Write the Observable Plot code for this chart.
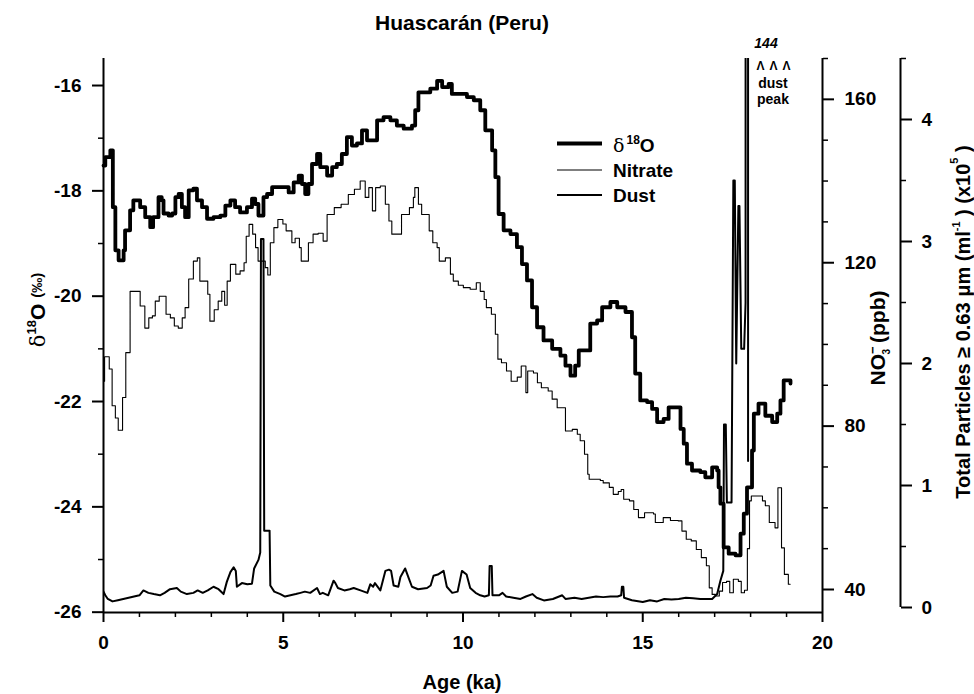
<!DOCTYPE html>
<html><head><meta charset="utf-8">
<script src="https://cdn.jsdelivr.net/npm/d3@7"></script>
<script src="https://cdn.jsdelivr.net/npm/@observablehq/plot@0.6"></script>
<style>
body{margin:0;background:#fff;}
#chart{position:relative;width:974px;height:694px;}
#chart svg{position:absolute;left:0;top:0;overflow:visible;}
</style></head><body><div id="chart"></div>
<script>
// ---------- data (age in ka) ----------
const d18oSeries = [
[0.00,-17.52],[0.05,-17.36],[0.19,-17.23],[0.26,-18.31],[0.33,-19.13],[0.42,-19.32],[0.56,-19.13],[0.60,-18.75],
[0.74,-18.37],[0.83,-18.18],[1.02,-18.31],[1.16,-18.50],[1.30,-18.69],[1.38,-18.50],[1.53,-18.12],[1.62,-18.18],
[1.67,-18.43],[1.81,-18.47],[1.91,-18.43],[2.00,-18.12],[2.09,-18.06],[2.18,-18.31],[2.27,-18.50],[2.37,-17.99],
[2.50,-17.96],[2.60,-18.18],[2.74,-18.31],[2.88,-18.53],[3.06,-18.50],[3.25,-18.47],[3.39,-18.28],[3.53,-18.18],
[3.66,-18.31],[3.80,-18.41],[3.99,-18.31],[4.13,-18.15],[4.22,-18.25],[4.31,-18.47],[4.45,-18.12],[4.55,-18.06],
[4.69,-17.93],[4.96,-17.93],[5.15,-18.03],[5.29,-17.84],[5.43,-17.71],[5.52,-17.87],[5.61,-18.06],[5.70,-17.87],
[5.80,-17.49],[5.94,-17.30],[6.03,-17.55],[6.22,-17.71],[6.36,-17.55],[6.49,-17.49],[6.63,-17.30],[6.77,-16.98],
[6.91,-17.14],[7.05,-17.10],[7.19,-16.85],[7.33,-17.04],[7.47,-17.04],[7.61,-16.66],[7.79,-16.60],[7.98,-16.66],
[8.16,-16.76],[8.35,-16.82],[8.58,-16.76],[8.67,-16.47],[8.76,-16.13],[9.09,-16.06],[9.28,-15.91],[9.42,-16.03],
[9.60,-15.97],[9.69,-16.16],[10.11,-16.22],[10.30,-16.28],[10.48,-16.47],[10.62,-16.85],[10.81,-17.23],[10.90,-17.74],
[10.99,-18.44],[11.13,-18.75],[11.32,-18.82],[11.50,-19.07],[11.64,-19.39],[11.78,-19.70],[11.92,-20.21],[12.06,-20.59],
[12.24,-20.84],[12.48,-21.00],[12.71,-21.13],[12.85,-21.32],[12.99,-21.51],[13.12,-21.32],[13.22,-21.03],[13.54,-20.52],
[13.73,-20.46],[13.87,-20.21],[14.10,-20.11],[14.29,-20.21],[14.52,-20.30],[14.70,-20.78],[14.79,-21.47],[14.93,-21.98],
[15.12,-22.01],[15.26,-22.14],[15.40,-22.39],[15.58,-22.33],[15.72,-22.11],[15.91,-22.11],[16.05,-22.52],[16.14,-22.80],
[16.23,-23.18],[16.37,-23.31],[16.60,-23.34],[16.74,-23.44],[16.93,-23.25],[17.07,-23.31],[17.11,-23.63],[17.16,-23.94],
[17.25,-24.77],[17.39,-24.89],[17.58,-24.92],[17.72,-24.51],[17.81,-24.13],[17.90,-23.63],[18.04,-22.93],[18.09,-22.23],
[18.22,-22.04],[18.41,-22.27],[18.60,-22.39],[18.74,-22.23],[18.83,-21.98],[18.92,-21.60],[19.11,-21.66]
];
const nitrateSeries = [
[0.00,91],[0.03,97],[0.16,94],[0.24,85],[0.33,82],[0.41,79],[0.53,87],[0.62,98],[0.74,113],[1.02,109.4],
[1.15,104],[1.26,106.5],[1.36,107],[1.44,110.6],[1.55,111.8],[1.74,107.4],[1.86,106.5],[1.97,104.5],[2.08,104],
[2.19,106.5],[2.27,109],[2.37,116],[2.50,120.4],[2.61,121.2],[2.68,115.5],[2.90,112.3],[2.96,105.7],[3.08,108.5],
[3.19,110.6],[3.29,113],[3.37,109.6],[3.44,115.5],[3.53,119.6],[3.68,117.2],[3.80,118],[3.91,120],[3.97,126.5],
[4.05,129.4],[4.15,127],[4.23,123.7],[4.30,120.4],[4.50,118.8],[4.57,117],[4.64,124.9],[4.74,128.6],[4.85,130.6],
[4.99,129.5],[5.08,127.8],[5.24,124.9],[5.33,126],[5.45,123.7],[5.50,120.4],[5.70,124.9],[5.83,127],[5.97,127.2],
[6.11,125.3],[6.22,131.8],[6.42,133.5],[6.61,134.3],[6.81,136.7],[6.98,138],[7.14,140],[7.28,136],[7.38,138.4],
[7.48,132.7],[7.57,138.4],[7.70,138.8],[7.84,134.3],[7.94,130.2],[8.02,127],[8.29,131.8],[8.51,133.5],[8.62,136],
[8.66,138.4],[8.76,134.3],[8.85,131.8],[9.06,127.8],[9.16,124.9],[9.28,123.7],[9.34,120.4],[9.51,121.2],[9.65,117.2],
[9.73,115.5],[9.87,114.5],[10.01,113.9],[10.20,113.5],[10.37,115.1],[10.48,113],[10.59,111],[10.65,109],[10.79,107.4],
[10.90,102.5],[10.97,96.4],[11.07,95.5],[11.21,93.5],[11.34,91],[11.51,92],[11.62,94.7],[11.75,88.2],[11.80,93.5],
[11.96,93],[12.07,90.6],[12.18,89.4],[12.37,88.6],[12.48,86.6],[12.62,84.5],[12.85,78.8],[13.04,79.2],[13.18,78],
[13.26,76.4],[13.38,73.1],[13.47,68.2],[13.51,67],[13.82,66.7],[13.90,66.1],[14.07,65],[14.18,63.3],[14.32,64],
[14.40,64.5],[14.47,62.1],[14.63,61.7],[14.75,59.6],[14.88,57.6],[15.05,58.8],[15.30,58.5],[15.35,56.4],[15.57,57.6],
[15.77,56.9],[15.99,56.8],[16.09,54.3],[16.21,52.3],[16.35,51.9],[16.49,49.8],[16.63,47.8],[16.77,45.8],[16.85,40.4],
[16.93,38.8],[17.02,38.4],[17.13,39.6],[17.22,41.7],[17.33,42],[17.42,39.2],[17.52,42.5],[17.66,42],[17.74,39.2],
[17.83,39.8],[17.91,50],[17.97,61.7],[18.02,62.9],[18.33,61.7],[18.41,60.5],[18.52,56.4],[18.68,55.1],[18.76,64.9],
[18.86,50.2],[18.94,43.7],[19.05,41.3],[19.10,41.3]
];
const dustSeries = [
[0.00,0.13],[0.05,0.10],[0.12,0.07],[0.25,0.05],[0.40,0.06],[0.55,0.07],[0.70,0.08],[0.85,0.09],[1.00,0.10],
[1.11,0.14],[1.25,0.12],[1.40,0.11],[1.57,0.10],[1.70,0.12],[1.85,0.15],[2.04,0.16],[2.15,0.13],[2.32,0.11],
[2.50,0.12],[2.62,0.14],[2.76,0.12],[2.90,0.14],[3.06,0.17],[3.20,0.15],[3.34,0.11],[3.43,0.21],[3.53,0.29],
[3.62,0.33],[3.68,0.30],[3.71,0.17],[3.85,0.20],[4.00,0.19],[4.13,0.195],[4.19,0.32],[4.31,0.39],[4.36,0.45],
[4.38,3.02],[4.45,3.02],[4.47,0.63],[4.62,0.63],[4.64,0.18],[4.75,0.13],[4.92,0.11],[5.05,0.09],[5.20,0.10],
[5.35,0.11],[5.48,0.12],[5.60,0.13],[5.75,0.12],[5.94,0.16],[6.02,0.11],[6.10,0.12],[6.25,0.10],[6.40,0.22],
[6.45,0.20],[6.52,0.16],[6.70,0.14],[6.85,0.15],[6.96,0.16],[7.15,0.14],[7.34,0.12],[7.42,0.19],[7.50,0.17],
[7.55,0.20],[7.70,0.14],[7.84,0.30],[7.94,0.31],[8.00,0.30],[8.07,0.18],[8.20,0.17],[8.26,0.25],[8.39,0.32],
[8.49,0.24],[8.58,0.17],[8.75,0.15],[9.00,0.16],[9.10,0.18],[9.18,0.26],[9.30,0.27],[9.46,0.30],[9.55,0.17],
[9.70,0.12],[9.85,0.13],[9.97,0.30],[10.10,0.27],[10.20,0.16],[10.35,0.12],[10.48,0.10],[10.60,0.09],[10.72,0.10],
[10.74,0.34],[10.80,0.34],[10.82,0.10],[11.00,0.10],[11.10,0.12],[11.20,0.09],[11.40,0.08],[11.60,0.07],[11.75,0.09],
[11.93,0.11],[12.05,0.08],[12.25,0.058],[12.50,0.07],[12.76,0.10],[12.85,0.07],[13.10,0.08],[13.30,0.07],[13.50,0.08],
[13.70,0.09],[13.90,0.085],[14.10,0.09],[14.30,0.09],[14.40,0.10],[14.42,0.17],[14.46,0.17],[14.48,0.08],[14.70,0.06],
[15.00,0.045],[15.20,0.06],[15.40,0.05],[15.60,0.07],[15.80,0.065],[16.00,0.07],[16.20,0.08],[16.40,0.075],[16.60,0.07],
[16.93,0.07],[17.07,0.11],[17.16,0.22],[17.24,0.30],[17.26,1.50],[17.31,1.50],[17.34,0.86],[17.47,0.86],[17.52,3.50],
[17.56,3.50],[17.60,2.00],[17.66,3.29],[17.69,3.29],[17.74,2.12],[17.82,2.12],[17.86,2.50],[17.90,144],[17.91,144],
[17.93,1.20]
];
const xTicks = [0,5,10,15,20];
const xMinor = [1,2,3,4,6,7,8,9,11,12,13,14,16,17,18,19];
const d18oTicks = [-16,-18,-20,-22,-24,-26];
const d18oMinor = [-17,-19,-21,-23,-25];
const nitrateTicks = [40,80,120,160];
const nitrateMinor = [50,60,70,90,100,110,130,140,150,170];
const dustTicks = [0,1,2,3,4];
const dustMinor = [0.5,1.5,2.5,3.5,4.5];
const legendLabels = ["Nitrate","Dust"];

// ---------- layout ----------
const FONT = '"Liberation Sans", Arial, Helvetica, sans-serif';
const W = 974, H = 694;
const mL = 103, mR = 152, mT = 58, mB = 82;
const d18oDomain = [-26.006, -15.487];
const nitrateDomain = [34.37, 170];
const dustDomain = [-0.041, 4.5];
const style = {background:"transparent", fontFamily:FONT, fontSize:"19px", fontWeight:"bold", color:"#000", overflow:"visible"};
const toObj = s => s.map(([age,value]) => ({age, value}));

const plotA = Plot.plot({
  width:W, height:H, marginLeft:mL, marginRight:mR, marginTop:mT, marginBottom:mB, style,
  x:{domain:[0,20], axis:null},
  y:{domain:d18oDomain, axis:null},
  marks:[
    Plot.ruleY([d18oDomain[0]], {x1:0, x2:20, strokeWidth:2}),
    Plot.ruleX([0], {y1:d18oDomain[0], y2:d18oDomain[1], strokeWidth:2}),
    Plot.axisX({ticks:xTicks, tickSize:10, tickPadding:13, tickFormat:d=>String(d), strokeWidth:2, label:null}),
    Plot.axisX({ticks:xMinor, tickSize:5, tickFormat:()=>"", strokeWidth:1.5, label:null}),
    Plot.axisY({ticks:d18oTicks, tickSize:11, tickPadding:11, tickFormat:d=>String(d), strokeWidth:2, label:null}),
    Plot.axisY({ticks:d18oMinor, tickSize:5, tickFormat:()=>"", strokeWidth:1.5, label:null}),
    Plot.line(toObj(d18oSeries), {x:"age", y:"value", curve:"step-after", stroke:"#000", strokeWidth:3.8, strokeLinejoin:"round", strokeLinecap:"round"})
  ]
});

const plotB = Plot.plot({
  width:W, height:H, marginLeft:mL, marginRight:mR, marginTop:mT, marginBottom:mB, style,
  x:{domain:[0,20], axis:null},
  y:{domain:nitrateDomain, axis:null},
  marks:[
    Plot.ruleX([20], {y1:nitrateDomain[0], y2:nitrateDomain[1], strokeWidth:2}),
    Plot.axisY({anchor:"right", ticks:nitrateTicks, tickSize:11, tickPadding:11, tickFormat:d=>String(d), strokeWidth:2, label:null}),
    Plot.axisY({anchor:"right", ticks:nitrateMinor, tickSize:5, tickFormat:()=>"", strokeWidth:1.5, label:null}),
    Plot.line(toObj(nitrateSeries), {x:"age", y:"value", curve:"step-after", stroke:"#000", strokeWidth:1.1})
  ]
});

// dust plot: wider x range so its right axis sits further right, same data positions
const dustRight = 900;
const dustXMax = 20 * (dustRight - mL) / (W - mR - mL);
const plotC = Plot.plot({
  width:W, height:H, marginLeft:mL, marginRight:W - dustRight, marginTop:mT, marginBottom:mB, style,
  x:{domain:[0,dustXMax], axis:null},
  y:{domain:dustDomain, axis:null},
  marks:[
    Plot.ruleX([dustXMax], {y1:0, y2:4.5, strokeWidth:2}),
    Plot.axisY({anchor:"right", ticks:dustTicks, tickSize:11, tickPadding:10, tickFormat:d=>String(d), strokeWidth:2, label:null}),
    Plot.axisY({anchor:"right", ticks:dustMinor, tickSize:5, tickFormat:()=>"", strokeWidth:1.5, label:null}),
    Plot.line(toObj(dustSeries), {x:"age", y:"value", stroke:"#000", strokeWidth:2, strokeLinejoin:"round", clip:true})
  ]
});

const chart = document.getElementById("chart");
chart.append(plotC, plotB, plotA);

// ---------- text overlay ----------
const svg = d3.select(chart).append("svg").attr("width",W).attr("height",H)
  .style("font-family",FONT).style("font-weight","bold").attr("fill","#000");

svg.append("text").attr("x",462).attr("y",30).attr("text-anchor","middle").attr("font-size",21).text("Huascarán (Peru)");
svg.append("text").attr("x",462).attr("y",689).attr("text-anchor","middle").attr("font-size",20).text("Age (ka)");

// left axis title
const t1 = svg.append("text").attr("transform","translate(45,310) rotate(-90)").attr("text-anchor","middle").attr("font-size",21);
t1.append("tspan").attr("font-weight","normal").attr("font-family","DejaVu Serif, serif").text("δ");
t1.append("tspan").attr("font-size",13).attr("dy",-9).text("18");
t1.append("tspan").attr("dy",9).text("O ");
t1.append("tspan").attr("font-size",15).attr("dy",-3).text("(‰)");

// nitrate axis title
const t2 = svg.append("text").attr("transform","translate(885,338) rotate(-90)").attr("text-anchor","middle").attr("font-size",21);
t2.append("tspan").text("NO");
t2.append("tspan").attr("font-size",13).attr("dy",-8).text("−");
t2.append("tspan").attr("font-size",10).attr("dx",-8).attr("dy",13).text("3");
t2.append("tspan").attr("dy",-5).text("  (ppb)");

// dust axis title
const t3 = svg.append("text").attr("transform","translate(970,322) rotate(-90)").attr("text-anchor","middle").attr("font-size",20);
t3.append("tspan").text("Total Particles ≥ 0.63 μm (ml");
t3.append("tspan").attr("font-size",11).attr("dy",-10).text("-1");
t3.append("tspan").attr("dy",10).text(" ) (x10");
t3.append("tspan").attr("font-size",11).attr("dy",-12).text("5");
t3.append("tspan").attr("dy",12).text(" )");

// legend
const lg = svg.append("g");
lg.append("line").attr("x1",557).attr("x2",602).attr("y1",143.5).attr("y2",143.5).attr("stroke","#000").attr("stroke-width",4);
lg.append("line").attr("x1",557).attr("x2",602).attr("y1",170).attr("y2",170).attr("stroke","#000").attr("stroke-width",1.1);
lg.append("line").attr("x1",557).attr("x2",602).attr("y1",195).attr("y2",195).attr("stroke","#000").attr("stroke-width",2);
const l1 = lg.append("text").attr("x",613).attr("y",151.5).attr("font-size",19);
l1.append("tspan").attr("font-weight","normal").attr("font-family","DejaVu Serif, serif").text("δ");
l1.append("tspan").attr("font-size",12).attr("dy",-8).attr("dx",2).text("18");
l1.append("tspan").attr("dy",8).text("O");
legendLabels.forEach((s,i)=>lg.append("text").attr("x",613).attr("y",177+25*i).attr("font-size",19).text(s));

// dust peak annotation
svg.append("text").attr("x",766).attr("y",48).attr("text-anchor","middle").attr("font-size",14).attr("font-style","italic").text("144");
svg.append("text").attr("x",774).attr("y",70).attr("text-anchor","middle").attr("font-size",12).attr("letter-spacing",1).text("Λ Λ Λ");
svg.append("text").attr("x",773).attr("y",88).attr("text-anchor","middle").attr("font-size",14).text("dust");
svg.append("text").attr("x",773).attr("y",104).attr("text-anchor","middle").attr("font-size",14).text("peak");
</script></body></html>
